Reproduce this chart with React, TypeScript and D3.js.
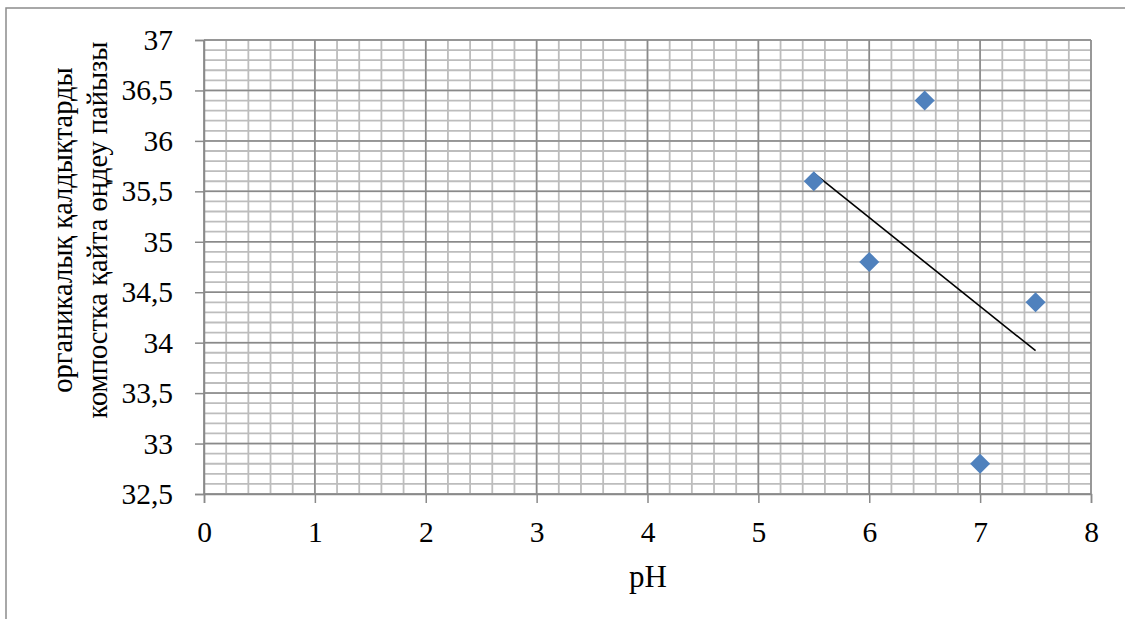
import { useEffect, useRef } from "react"
import * as d3 from "d3"

// pH values and processing percentage
const phValues = [5.5, 6, 6.5, 7, 7.5]
const percentValues = [35.6, 34.8, 36.4, 32.8, 34.4]
const xTicks = [0, 1, 2, 3, 4, 5, 6, 7, 8]
const yTicks = [32.5, 33, 33.5, 34, 34.5, 35, 35.5, 36, 36.5, 37]
const yTitleLines = ["органикалық қалдықтарды", "компостка қайта өңдеу пайызы"]
const xTitle = "pH"

export default function App() {
  const svgRef = useRef<SVGSVGElement>(null)

  useEffect(() => {
    if (!svgRef.current) return
    const svg = d3.select(svgRef.current)
    svg.selectAll("*").remove()

    const width = 1125
    const height = 619
    const left = 204
    const right = 1091
    const top = 40
    const bottom = 494
    const font = "Liberation Serif"

    const x = d3.scaleLinear().domain([0, 8]).range([left, right])
    const y = d3.scaleLinear().domain([32.5, 37]).range([bottom, top])

    svg.attr("width", width).attr("height", height).attr("font-family", font)

    // outer chart border (only top and left visible)
    svg
      .append("rect")
      .attr("x", 6)
      .attr("y", 8)
      .attr("width", 1140)
      .attr("height", 640)
      .attr("fill", "white")
      .attr("stroke", "#8c8c8c")
      .attr("stroke-width", 1.5)

    const grid = svg.append("g")

    // minor gridlines
    const xMinor = d3.range(0, 8.0001, 0.2)
    const yMinor = d3.range(32.5, 37.0001, 0.1)
    grid
      .selectAll(".xminor")
      .data(xMinor)
      .enter()
      .append("line")
      .attr("x1", (d) => x(d))
      .attr("x2", (d) => x(d))
      .attr("y1", top)
      .attr("y2", bottom)
      .attr("stroke", "#bdbdbd")
      .attr("stroke-width", 1.8)
    grid
      .selectAll(".yminor")
      .data(yMinor)
      .enter()
      .append("line")
      .attr("x1", left)
      .attr("x2", right)
      .attr("y1", (d) => y(d))
      .attr("y2", (d) => y(d))
      .attr("stroke", "#bdbdbd")
      .attr("stroke-width", 1.8)

    // major gridlines
    grid
      .selectAll(".xmajor")
      .data(xTicks)
      .enter()
      .append("line")
      .attr("x1", (d) => x(d))
      .attr("x2", (d) => x(d))
      .attr("y1", top)
      .attr("y2", bottom)
      .attr("stroke", "#8a8a8a")
      .attr("stroke-width", 1.5)
    grid
      .selectAll(".ymajor")
      .data(yTicks)
      .enter()
      .append("line")
      .attr("x1", left)
      .attr("x2", right)
      .attr("y1", (d) => y(d))
      .attr("y2", (d) => y(d))
      .attr("stroke", "#8a8a8a")
      .attr("stroke-width", 1.5)

    // axes
    const xAxis = svg
      .append("g")
      .attr("transform", `translate(0, ${bottom})`)
      .call(d3.axisBottom(x).tickValues(xTicks).tickSize(9).tickFormat((d) => String(d)))
    const yAxis = svg
      .append("g")
      .attr("transform", `translate(${left}, 0)`)
      .call(
        d3
          .axisLeft(y)
          .tickValues(yTicks)
          .tickSize(9)
          .tickFormat((d) => String(d).replace(".", ","))
      )

    ;[xAxis, yAxis].forEach((a) => {
      a.attr("font-family", font).attr("font-size", 29.5)
      a.select(".domain").attr("stroke", "#8a8a8a").attr("stroke-width", 1.5)
      a.selectAll(".tick line").attr("stroke", "#8a8a8a").attr("stroke-width", 1.5)
      a.selectAll(".tick text").attr("fill", "black")
    })
    xAxis.selectAll(".tick text").attr("dy", "0.71em").attr("y", 27)
    yAxis.selectAll(".tick text").attr("x", -31)

    // trend line (least squares)
    const mx = d3.mean(phValues) as number
    const my = d3.mean(percentValues) as number
    const slope =
      d3.sum(phValues, (v, i) => (v - mx) * (percentValues[i] - my)) /
      d3.sum(phValues, (v) => (v - mx) * (v - mx))
    const x0 = d3.min(phValues) as number
    const x1 = d3.max(phValues) as number
    const trend: [number, number][] = [
      [x0, my + slope * (x0 - mx)],
      [x1, my + slope * (x1 - mx)],
    ]
    svg
      .append("path")
      .attr(
        "d",
        d3
          .line<[number, number]>()
          .x((d) => x(d[0]))
          .y((d) => y(d[1]))(trend)
      )
      .attr("stroke", "black")
      .attr("stroke-width", 1.6)
      .attr("fill", "none")

    // markers
    const diamond = d3.symbol().type(d3.symbolSquare).size(200)
    svg
      .selectAll(".pt")
      .data(phValues)
      .enter()
      .append("path")
      .attr("d", diamond)
      .attr("transform", (d, i) => `translate(${x(d)}, ${y(percentValues[i])}) rotate(45)`)
      .attr("fill", "#4f81bd")

    // x title
    svg
      .append("text")
      .attr("x", 648)
      .attr("y", 587)
      .attr("text-anchor", "middle")
      .attr("fill", "black")
      .attr("font-size", 31)
      .text(xTitle)

    // y title
    const yTitle = svg
      .append("text")
      .attr("transform", "translate(0, 230) rotate(-90)")
      .attr("text-anchor", "middle")
      .attr("fill", "black")
      .attr("font-size", 28.5)
    yTitleLines.forEach((line, i) => {
      yTitle
        .append("tspan")
        .attr("x", 0)
        .attr("y", 72 + i * 35)
        .text(line)
    })
  }, [])

  return (
    <div style={{ position: "fixed", left: 0, top: 0, width: 1125, height: 619, overflow: "hidden", background: "white" }}>
      <svg ref={svgRef} style={{ display: "block" }}></svg>
    </div>
  )
}
